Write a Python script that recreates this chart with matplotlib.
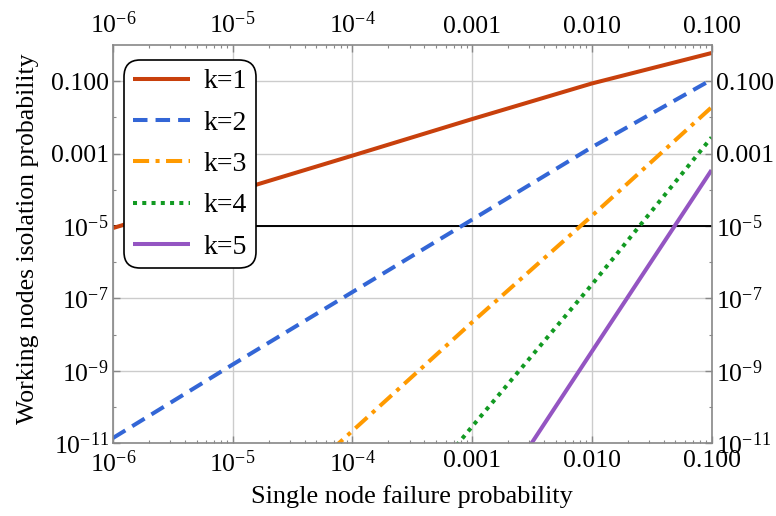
import matplotlib
matplotlib.use('Agg')
import matplotlib.pyplot as plt
import numpy as np
from matplotlib.ticker import FixedLocator, FixedFormatter, LogLocator, NullFormatter

# 单节点失效概率 (对数刻度上的十进点)
p_fail = [1e-6, 1e-5, 1e-4, 1e-3, 1e-2, 1e-1]

# 各 k 值对应的孤立概率 (从图中读取, nan 表示不在图中)
iso_k1 = [8.8e-6, 8.8e-5, 8.8e-4, 9.0e-3, 8.65e-2, 0.60]
iso_k2 = [1.4e-11, 1.5e-9, 1.5e-7, 1.5e-5, 1.5e-3, 0.11]
iso_k3 = [np.nan, 2.2e-14, 2.2e-11, 2.2e-8, 1.9e-5, 1.9e-2]
iso_k4 = [np.nan, np.nan, 2.9e-15, 2.9e-11, 2.4e-7, 2.8e-3]
iso_k5 = [np.nan, np.nan, np.nan, 3.2e-14, 3.4e-9, 3.5e-4]
threshold = 1e-5

series_labels = ['k=1', 'k=2', 'k=3', 'k=4', 'k=5']

x_ticks = [1e-6, 1e-5, 1e-4, 1e-3, 1e-2, 1e-1]
x_tick_labels = ['$10^{-6}$', '$10^{-5}$', '$10^{-4}$', '0.001', '0.010', '0.100']
y_ticks = [1e-11, 1e-9, 1e-7, 1e-5, 1e-3, 1e-1]
y_tick_labels = ['$10^{-11}$', '$10^{-9}$', '$10^{-7}$', '$10^{-5}$', '0.001', '0.100']
y_minor = [1e-10, 1e-8, 1e-6, 1e-4, 1e-2]

plt.rcParams['font.family'] = ['Liberation Serif', 'DejaVu Serif']
plt.rcParams['mathtext.fontset'] = 'custom'
plt.rcParams['mathtext.rm'] = 'Liberation Serif'
plt.rcParams['mathtext.it'] = 'Liberation Serif:italic'
plt.rcParams['mathtext.bf'] = 'Liberation Serif:bold'

fig = plt.figure(figsize=(7.76, 5.16), dpi=100)
ax = fig.add_axes([0.1456, 0.1409, 0.7713, 0.7719])

colors = ['#C8400C', '#3366D6', '#FF9A00', '#129A22', '#9455C2']
styles = ['-', (0, (3.6, 2.0)), (0, (4.0, 1.6, 1.0, 1.6)), (0, (1.0, 1.3)), '-']
data = [iso_k1, iso_k2, iso_k3, iso_k4, iso_k5]

for y, c, ls, lab in zip(data, colors, styles, series_labels):
    ax.plot(p_fail, y, color=c, linestyle=ls, linewidth=2.9, label=lab,
            dash_capstyle='butt', solid_capstyle='butt')

ax.axhline(threshold, color='black', linewidth=1.4, zorder=1)

ax.set_xscale('log')
ax.set_yscale('log')
ax.set_xlim(1e-6, 1e-1)
ax.set_ylim(1e-11, 1.0)

ax.xaxis.set_major_locator(FixedLocator(x_ticks))
ax.xaxis.set_major_formatter(FixedFormatter(x_tick_labels))
ax.xaxis.set_minor_locator(LogLocator(base=10, subs=np.arange(2, 10)))
ax.xaxis.set_minor_formatter(NullFormatter())
ax.yaxis.set_major_locator(FixedLocator(y_ticks))
ax.yaxis.set_major_formatter(FixedFormatter(y_tick_labels))
ax.yaxis.set_minor_locator(FixedLocator(y_minor))
ax.yaxis.set_minor_formatter(NullFormatter())

ax.grid(True, which='major', color='#CCCCCC', linewidth=1.0)
ax.set_axisbelow(True)
for s in ax.spines.values():
    s.set_color('#888888')
    s.set_linewidth(1.2)

ax.tick_params(which='both', direction='in', top=True, right=True,
               labeltop=True, labelright=True, color='#888888', labelsize=18.5)
ax.tick_params(which='major', length=5, width=1.0)
ax.tick_params(which='minor', length=2.5, width=0.8)
ax.tick_params(axis='x', which='major', pad=5)
ax.tick_params(axis='y', which='major', pad=3)

ax.set_xlabel('Single node failure probability', fontsize=18.9, labelpad=6)
ax.set_ylabel('Working nodes isolation probability', fontsize=18.5)
ax.yaxis.set_label_coords(-0.123, 0.513)

leg = ax.legend(loc='upper left', bbox_to_anchor=(0.018, 0.962), borderaxespad=0,
                fontsize=20, handlelength=2.05, labelspacing=0.57, frameon=True,
                fancybox=True, edgecolor='black', framealpha=1.0,
                borderpad=0.32, handletextpad=0.5)
leg.get_frame().set_linewidth(1.2)
leg.get_frame().set_boxstyle('round', pad=0.0, rounding_size=0.6)

plt.savefig('out.png', dpi=100)
